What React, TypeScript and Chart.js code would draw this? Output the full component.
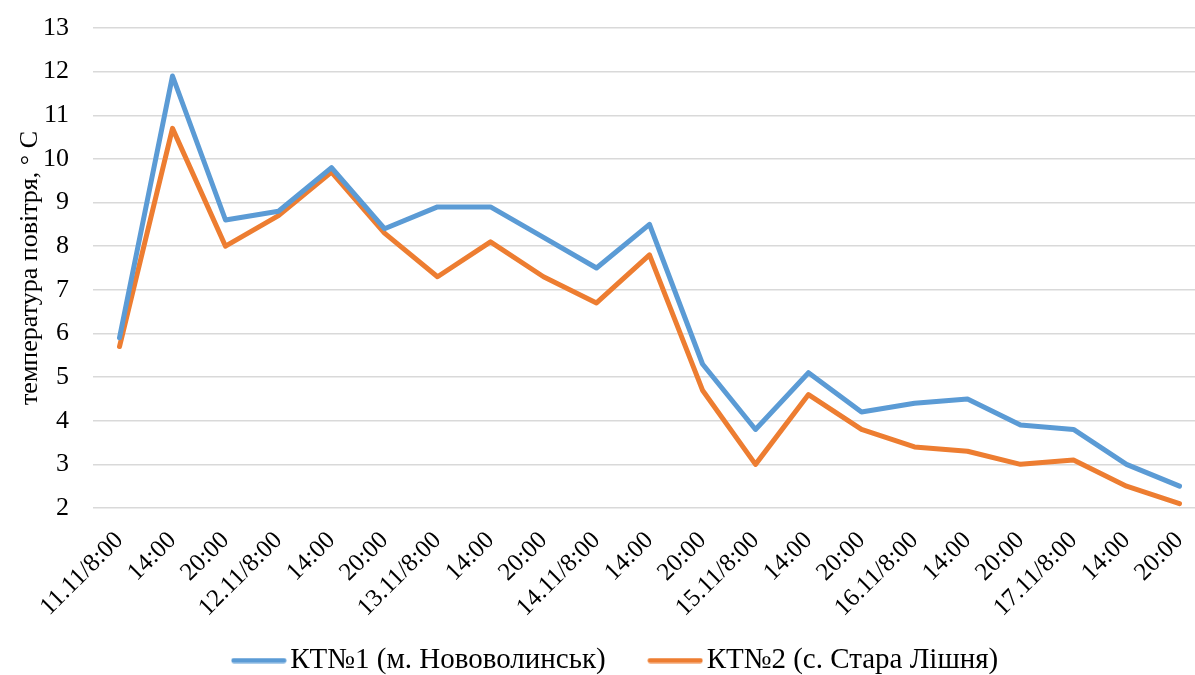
import React, { useEffect, useRef } from "react";
import { Chart, registerables } from "chart.js";

Chart.register(...registerables);

const categories = [
  "11.11/8:00", "14:00", "20:00", "12.11/8:00", "14:00", "20:00",
  "13.11/8:00", "14:00", "20:00", "14.11/8:00", "14:00", "20:00",
  "15.11/8:00", "14:00", "20:00", "16.11/8:00", "14:00", "20:00",
  "17.11/8:00", "14:00", "20:00",
];

const seriesKT1 = [5.9, 11.9, 8.6, 8.8, 9.8, 8.4, 8.9, 8.9, 8.2, 7.5, 8.5, 5.3, 3.8, 5.1, 4.2, 4.4, 4.5, 3.9, 3.8, 3.0, 2.5];
const seriesKT2 = [5.7, 10.7, 8.0, 8.7, 9.7, 8.3, 7.3, 8.1, 7.3, 6.7, 7.8, 4.7, 3.0, 4.6, 3.8, 3.4, 3.3, 3.0, 3.1, 2.5, 2.1];

const seriesNames = ["КТ№1 (м. Нововолинськ)", "КТ№2 (с. Стара Лішня)"];
const seriesColors = ["#5B9BD5", "#ED7D31"];
const yMin = 2;
const yMax = 13;
const yStep = 1;
const yTitle = "температура повітря, ° С";

const FONT = "'Liberation Serif', 'Times New Roman', serif";

function makeLegendLine(color: string): HTMLCanvasElement {
  const c = document.createElement("canvas");
  c.width = 56;
  c.height = 6;
  const ctx = c.getContext("2d")!;
  ctx.strokeStyle = color;
  ctx.lineWidth = 5;
  ctx.lineCap = "round";
  ctx.beginPath();
  ctx.moveTo(3, 3);
  ctx.lineTo(53, 3);
  ctx.stroke();
  return c;
}

export default function App() {
  const ref = useRef<HTMLCanvasElement | null>(null);

  useEffect(() => {
    if (!ref.current) return;
    const legendImages = seriesColors.map(makeLegendLine);
    const chart = new Chart(ref.current, {
      type: "line",
      data: {
        labels: categories,
        datasets: [
          {
            label: seriesNames[0],
            data: seriesKT1,
            borderColor: seriesColors[0],
            backgroundColor: seriesColors[0],
            borderWidth: 5,
            pointRadius: 0,
            tension: 0,
            borderCapStyle: "round",
            borderJoinStyle: "round",
          },
          {
            label: seriesNames[1],
            data: seriesKT2,
            borderColor: seriesColors[1],
            backgroundColor: seriesColors[1],
            borderWidth: 5,
            pointRadius: 0,
            tension: 0,
            borderCapStyle: "round",
            borderJoinStyle: "round",
          },
        ],
      },
      options: {
        animation: false,
        responsive: false,
        maintainAspectRatio: false,
        layout: { padding: { top: 28, right: 9, bottom: 0, left: 34 } },
        plugins: {
          tooltip: { enabled: false },
          legend: {
            position: "bottom",
            labels: {
              font: { family: FONT, size: 29 },
              color: "#000",
              usePointStyle: true,
              pointStyleWidth: 34,
              boxHeight: 6,
              padding: 52.5,
              generateLabels: (ch: any) => {
                const items = Chart.defaults.plugins.legend.labels.generateLabels(ch);
                return items.map((it: any, i: number) => ({
                  ...it,
                  pointStyle: legendImages[i % legendImages.length],
                  lineWidth: 0,
                }));
              },
            },
          },
        },
        scales: {
          x: {
            offset: true,
            grid: { display: false },
            border: { display: false },
            ticks: {
              font: { family: FONT, size: 25 },
              color: "#000",
              maxRotation: 45,
              minRotation: 45,
              autoSkip: false,
              padding: 10,
            },
            afterFit: (scale: any) => {
              scale.height = 85.5;
              scale.paddingLeft = 0;
              scale.paddingRight = 0;
              // let the rotated labels extend below the (short) axis box without clipping
              scale._computeLabelArea = () => undefined;
            },
          },
          y: {
            min: yMin,
            max: yMax,
            ticks: {
              stepSize: yStep,
              font: { family: FONT, size: 26 },
              color: "#000",
              padding: 24,
            },
            grid: { color: "#D9D9D9", lineWidth: 1.5, drawTicks: false },
            border: { display: false },
            title: {
              display: true,
              text: yTitle,
              font: { family: FONT, size: 26 },
              color: "#000",
              padding: { top: -19, bottom: 0 },
            },
            afterFit: (scale: any) => {
              scale.width = 59;
              scale.paddingTop = 0;
              scale.paddingBottom = 0;
            },
          },
        },
      },
    });
    return () => chart.destroy();
  }, []);

  return (
    <div style={{ position: "fixed", left: 0, top: 0, width: 1195, height: 675, overflow: "hidden", background: "#fff" }}>
      <canvas ref={ref} width={1215} height={685} style={{ display: "block" }} />
    </div>
  );
}
